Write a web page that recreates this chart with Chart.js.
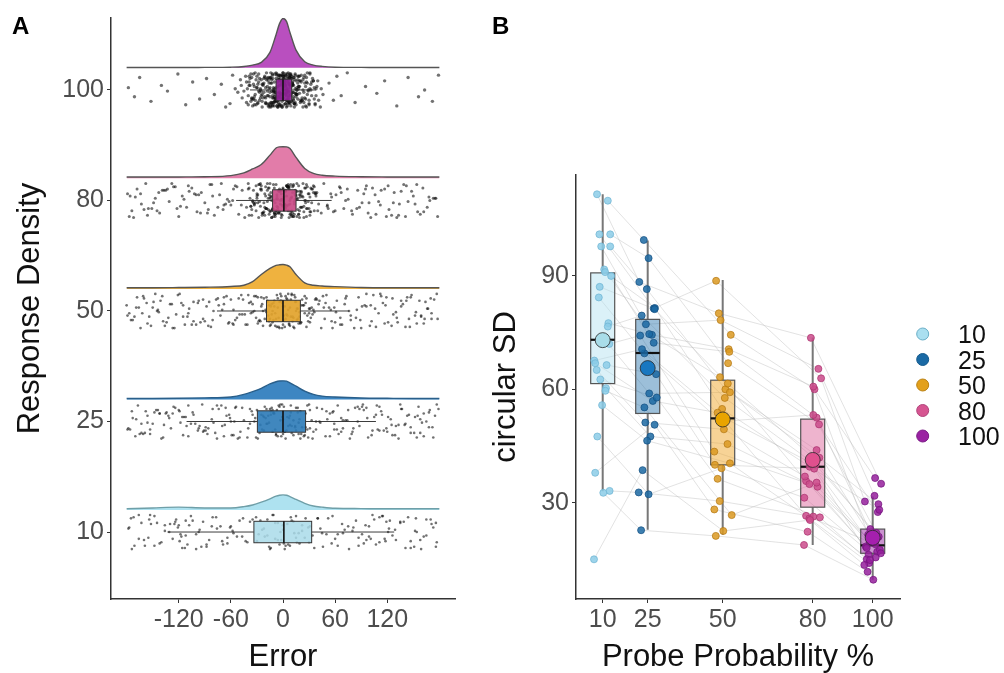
<!DOCTYPE html>
<html><head><meta charset="utf-8">
<script src="https://cdn.jsdelivr.net/npm/chart.js@4.4.1/dist/chart.umd.min.js"></script>
<style>
html,body{margin:0;padding:0;background:#fff;width:1004px;height:673px;overflow:hidden}
#wa{position:absolute;left:0;top:0;width:480px;height:673px}
#wb{position:absolute;left:480px;top:0;width:524px;height:673px}
</style></head><body>
<div id="wa"><canvas id="ca" width="480" height="673"></canvas></div>
<div id="wb"><canvas id="cb" width="524" height="673"></canvas></div>
<script>
// ---------------- DATA ----------------
const conditions = ['10', '25', '50', '80', '100'];
const probeLevels = [10, 25, 50, 80, 100];
const catPos = [1, 2, 3, 4, 5];
const errorTicks = [-120, -60, 0, 60, 120];
const sdTicks = [30, 60, 90];

// Panel A: density curves (height in category units above the baseline)
const densityGrid = [-180,-150,-120,-90,-60,-45,-35,-25,-15,-8,-4,0,4,8,15,25,35,45,60,90,120,150,180];
const dens10  = [0.01,0.018,0.025,0.018,0.018,0.03,0.045,0.07,0.1,0.125,0.133,0.136,0.133,0.12,0.095,0.06,0.035,0.025,0.015,0.012,0.01,0.01,0.01];
const dens25  = [0.008,0.008,0.01,0.014,0.022,0.045,0.07,0.1,0.14,0.16,0.166,0.168,0.165,0.15,0.12,0.075,0.045,0.03,0.022,0.013,0.01,0.008,0.008];
const dens50  = [0.01,0.01,0.012,0.015,0.022,0.033,0.065,0.13,0.185,0.212,0.218,0.22,0.215,0.2,0.13,0.055,0.033,0.026,0.02,0.012,0.01,0.01,0.01];
const dens80  = [0.012,0.012,0.013,0.015,0.025,0.05,0.085,0.125,0.21,0.275,0.285,0.286,0.285,0.27,0.19,0.09,0.045,0.028,0.02,0.015,0.013,0.012,0.012];
const dens100 = [0.003,0.003,0.003,0.004,0.006,0.012,0.025,0.05,0.14,0.30,0.40,0.447,0.42,0.32,0.16,0.055,0.025,0.013,0.006,0.004,0.003,0.003,0.003];

// Panel A: box statistics (Error)
const boxA_lo  = [-133, -111, -76, -54, -38];
const boxA_q1  = [-33.5, -29.5, -19, -12, -8];
const boxA_med = [1, 0, 0, 1, 0];
const boxA_q3  = [33, 26, 20, 15, 10];
const boxA_hi  = [128, 107, 76, 56, 38];

// Panel A: raw responses (Error) and vertical jitter (hundredths of a category)
const yJitter = [3,-12,8,-5,14,-9,0,11,-14,6,-2,9,-7,13,-11,4,-4,12,-15,7,1,-8,10,-13,5,-1,15,-6,2,-10,8,-3,13,-12,6,-9,11,-4,0,-14,9,-7,3,14,-11,5,-2,10,-15,7,-6,12,-1,4,-13,8,-8,15,-5,2,-10,11,-3,6,-12,13,-9,1,-7,9,-14,4,-4,14,0,-11,7,-6,10,-2,12,-13,5,-8,3,-15,11,-5,8,-1,13,-10,6,-3,15,-12,2,-9,9,-7,4,-14,10,-4,12,-11,1,-6,14,-2,7,-13,5,-10,11,-8,3,-15,8,0,-12,13,-5,6,-9,10,-3,15,-7,2,-11,9,-1,12,-14,4,-6,11,-10,7,-2,14,-13,5,-8,1,-4,13,-12,9,-15,3,-7,10,-5,6,-11,15,0,-9,8,-3,12,-14,2,-6,11,-10,4,-1,14,-13,7,-8,10,-4,5,-15,13,-2,9,-12,1,-7,12,-9,6,-5,15,-11,3,-3,8,-14,11,-6,0,-10,13,-1,7,-13,4,-8,14,-4,2,-12,10,-7,9,-15,5,-2,12,-11,1,-9];
const err10 = [-178,-171,-163,-155,-148,-140,-131,-123,-116,-108,-100,-92,-85,-77,-69,-61,-53,-46,-174,-152,-136,-119,-104,-88,-72,-57,-166,-127,-96,-64,-145,-112,-81,-159,-120,177,170,162,154,147,139,130,122,115,107,99,91,84,76,68,60,52,45,173,151,135,118,103,87,71,56,165,126,95,63,144,111,80,158,119,-113,-121,-117,114,121,-110,-125,101,-50,50,-175,176,-60,-43,43,
 2,-18,25,-6,13,-31,19,0,34,-11,8,-24,16,-38,-2,29,-14,10,-21,40,-4,22,-9,15,-28,5,-16,31,1,-35,
 -30,-22,-15,-9,-3,3,9,15,22,30,-26,-18,-12,-6,0,6,12,18,26,36,
 -177,-166,-154,-142,-130,-118,-106,-94,-82,-70,-58,-47,-172,-148,-124,-100,-76,-160,-112,-64,-136,-88,-153,-97,-41,176,165,153,141,129,117,105,93,81,69,57,46,171,147,123,99,75,159,111,63,135,87,152,96,40];
const err25 = [-179,-173,-167,-161,-156,-150,-146,-140,-135,-129,-124,-118,-114,-109,-104,-98,-93,-89,-82,-78,-74,-67,-62,-59,-54,-49,-45,-176,-158,-138,-116,-96,-76,-56,-165,-127,-86,-144,-106,-66,-170,-132,-91,-61,-52,179,172,168,160,156,151,145,140,135,129,124,120,113,109,105,98,93,88,83,79,74,69,63,59,54,49,175,158,137,116,97,77,57,165,126,86,147,107,67,169,133,92,62,51,-153,-119,-80,-47,154,121,81,45,-163,-142,-101,-71,162,143,103,72,-111,111,-57,58,
 3,-20,28,-7,14,-35,21,-1,38,-12,9,-26,17,-41,0,31,-15,10,-22,43,-5,24,-10,15,-30,6,-17,34,1,-38,20,-8,12,-24,39,2,-14,26,-3,18,-32,8,-11,29,-19,
 -40,-33,-27,-21,-16,-11,-6,-1,4,9,14,19,25,31,38,-36,-29,-23,-18,-13,-8,-3,2,7,12,17,22,28,35,42,-38,-31,-25,-19,-14,-9,-4,0,5,10,15,20,26,33,-22,-12,-2,8,18,30,
 -178,-169,-159,-148,-137,-126,-115,-103,-92,-81,-70,-60,-50,-174,-153,-131,-109,-87,-65,-163,-120,-76,-142,-97,-55,-156,-112,-68,-134,-89,177,168,158,147,136,125,114,102,91,80,69,59,50,173,152,130,108,86,64,162,119,75,141,96,54,155,111,67,133,88];
const err50 = [-180,-175,-169,-164,-160,-154,-149,-143,-139,-134,-128,-123,-119,-113,-108,-103,-97,-92,-88,-83,-77,-72,-68,-63,-57,-53,-48,-177,-157,-136,-115,-95,-75,-55,-166,-125,-85,-145,-105,-65,-171,-130,-90,-60,-50,177,171,167,162,157,153,147,141,136,131,126,121,115,110,104,100,94,89,85,78,73,68,62,57,53,48,174,159,138,117,96,76,56,164,127,87,146,106,66,170,132,91,61,50,-152,-117,-81,-46,152,118,82,46,-162,-141,-100,-70,163,143,102,71,-110,112,-58,59,
 4,-18,27,-6,12,-33,20,-2,36,-11,8,-25,16,-40,1,30,-14,9,-21,42,-4,23,-9,14,-29,6,-16,33,0,-37,19,-7,11,-23,38,2,-13,25,-3,17,-31,7,-10,28,-19,13,-1,35,-27,5,-15,21,-35,10,-5,31,-12,15,-44,3,
 -43,-35,-28,-22,-17,-12,-7,-2,3,8,13,18,24,30,37,44,-39,-31,-25,-19,-14,-9,-4,1,6,11,16,21,27,34,41,-41,-33,-26,-20,-15,-10,-5,0,5,10,15,20,26,32,39,-37,-29,-23,-16,-11,-6,-1,4,9,14,19,25,31,-24,-13,-3,7,17,29,-18,-8,2,12,22,
 -179,-168,-156,-144,-132,-121,-109,-98,-86,-74,-62,-51,-173,-150,-127,-103,-80,-57,-161,-115,-68,-138,-92,-47,-147,178,166,154,142,130,119,107,96,84,72,60,49,171,148,125,101,78,55,159,113,66,136,90,47,145];
const err80 = [-179,-174,-168,-163,-158,-151,-147,-142,-137,-131,-126,-120,-116,-111,-105,-99,-94,-90,-84,-79,-73,-69,-64,-60,-55,-51,-47,-44,-170,-155,-133,-118,-102,-87,-71,-58,-145,-108,-66,-124,178,173,166,161,155,150,144,139,133,128,122,117,112,106,101,96,91,86,80,75,70,65,60,55,51,47,44,168,152,136,119,103,88,72,58,142,110,67,125,-176,-160,-82,-48,176,158,95,52,-139,131,-97,99,
 5,-23,14,-8,31,-2,19,-37,9,-15,26,0,-11,38,-29,3,-19,12,-5,22,-33,7,-13,35,-1,17,-26,10,-7,29,-40,2,-17,24,-4,13,-31,8,-21,40,-10,1,-35,16,-3,27,-14,6,-24,20,-9,33,-28,11,-6,36,-18,4,-39,15,-12,23,0,-30,9,-16,41,-2,18,-25,6,-8,30,-34,12,-20,3,-11,25,-5,14,-42,7,-22,28,-1,19,-36,10,-13,32,-7,21,-27,4,-15,37,-3,16,-9,
 -38,-31,-25,-19,-14,-9,-4,1,6,11,16,21,27,33,39,-36,-29,-22,-17,-12,-7,-2,3,8,13,18,24,30,36,-40,-33,-26,-20,-15,-10,-5,0,5,10,15,20,25,31,37,-34,-27,-21,-16,-11,-6,-1,4,9,14,19,23,28,34,-37,-30,-23,-18,-13,-8,-3,2,7,12,17,22,26,32,38,-35,-28,-24,-14,-6,0,6,14,24,35,-32,-18,-9,-2,3,11,19,29,-26,-15,-7,1,8,16,27,-39,-21,-11,-4,5,13,21,31,-30,-17,-8,2,9,18,-25,-12,-1,7,15,26,-20,-10,0,10,20,-16,-5,4,12,-13,-3,6,
 -177,-164,-149,-135,-122,-109,-95,-81,-68,-53,-172,-143,-114,-86,-57,-156,-100,-62,-128,-75,175,162,148,134,121,107,93,79,66,51,169,141,113,85,56,154,98,61,127,74];
const err100 = [-178,-171,-165,-152,-140,-133,-121,-112,-104,-96,-88,-79,-71,-66,-58,-52,-49,-61,-55,-47,62,58,53,67,74,83,95,108,117,131,144,156,163,172,179,
 -45,-42,-40,-38,-36,-34,-32,-30,-29,-27,-26,-25,-24,-23,-22,-21,-20,44,41,39,37,35,33,31,30,29,27,26,25,24,23,22,21,20,-48,46,-43,43,-39,38,-35,34,-31,32,-28,28,-33,36,-37,40,
 2,-7,13,-1,5,-15,9,0,-4,17,-11,3,-9,7,-2,11,-18,4,-6,15,1,-13,8,-3,19,-8,6,-12,0,10,-5,14,-16,3,-1,12,-10,6,-19,9,-4,16,-7,2,-14,11,-2,5,-11,18,-6,8,-9,1,13,-17,4,-3,7,-12,10,-1,15,-8,3,-15,6,0,-5,12,-10,9,-2,17,-13,5,-7,14,-4,1,-16,11,-9,8,-1,18,-6,2,-11,13,-3,7,-14,4,-8,10,0,-12,16,-5,6,-18,3,-2,9,-10,12,-7,1,-15,5,-4,11,-1,14,-9,8,-13,2,-6,19,-3,10,-17,7,-11,0,4,-8,15,-2,6,-14,9,-5,13,-1,3,-10,8,-12,5,-7,1,-3,2,-1,0,4,-4,6,
 -41,-36,-30,-27,-22,-18,-14,-10,-6,-3,1,5,8,12,16,21,25,29,33,37,-39,-34,-28,-24,-20,-16,-12,-9,-5,-1,2,6,10,14,18,22,26,30,35,-40,
 -37,-32,-26,-21,-17,-13,-8,-4,0,3,7,11,15,19,23,27,31,36,-38,-33,-29,-25,-19,-15,-11,-7,-2,4,9,13,17,20,24,28,32,-35,-31,-23,-18,-12,
 -42,-34,-27,-22,-16,-10,-5,0,5,10,15,20,26,31,38,-30,-24,-14,-6,2,8,14,22,-26,-20,-13,-7,-1,3,9,16,24,-28,-21,-15,-9,-3,1,7,12,
 18,27,-36,-25,-17,-11,-4,6,11,19,-32,-19,-8,4,13,25,-23,-12,0,16,-39,-29,-16,-6,3,12,21,30,-24,-10,7,17,-33,-14,1,23,-20,-5,9,28];

// Panel B: circular SD per participant (same index = same participant)
const sd10  = [111.6,109.9,101,101,97.8,97.8,91.7,91,90,87.1,84.3,77.5,76.6,73.5,72,67.6,66.9,66.4,65.1,62.6,60.3,59.6,55.8,47.5,37.9,33.1,32.6,15];
const sd25  = [88.4,99.5,81.4,94.7,77.2,86.5,74.4,81.5,72.3,81.2,69.5,74.6,79.5,58.9,74.2,70.6,56.9,64,51.2,57.8,47.5,55.2,46.4,32.2,50.6,32.7,22.7,38.6];
const sd50  = [80.1,74.4,88.7,66.9,78.3,60,70.6,54.8,69.9,61.5,51.5,63.2,57.7,59.2,43.5,52.5,53.8,40,49.4,36.3,45.5,26.7,40.4,39.1,28.2,30.4,21.2,22.5];
const sd80  = [73.6,60,62.9,50.7,65.4,41.9,60.7,39.5,52.5,42,53.2,35.7,40,43.9,34.2,40.5,26.5,39,36.9,26.1,34.9,35.3,25.8,31.3,22.3,26.3,18.8,25.4];
const sd100 = [35,36.5,30.3,27.5,31.8,29.6,21.5,28.1,20.1,23,22,18.4,21,20.5,17,19.5,19,16.2,18,15,17.5,16.6,14,15.5,11.7,14.8,9.6,13.5];
// Panel B: horizontal jitter of each participant's point (x units)
const jit10  = [-1.9,1.7,-1.1,2.5,-0.5,2.5,0.5,0.8,2.8,-1,-1.3,1.9,1.7,0.3,2.2,-2.8,-2.5,1.3,-2,-0.8,1.1,0.9,-0.2,-1.8,-2.5,2.3,0.2,-2.9];
const jit25  = [-2.8,-1.3,2,0.3,-0.6,-0.3,1.4,2.4,2,2.3,-1.1,0.5,-2,0.5,-2.5,-1.9,1.7,2.8,-0.8,3,0.9,-1.1,-0.2,0.3,2.3,-3,-2.2,-1.7];
const jit50  = [-1.3,2.7,-2.2,1.8,-0.7,0.9,2,-0.2,2.2,1.7,-0.6,-0.9,0.7,2.4,-2.8,0.3,-1.7,-2.6,0.4,-1.7,1.6,3,2.4,-0.4,-2.8,-1,-2.3,0.2];
const jit80  = [-0.6,0.6,2.8,2.1,1.9,2.2,0.2,-1,1.3,0,0.2,-2.2,1,1.3,1.6,-0.5,-2.2,0.5,-2.6,2.4,-1.1,1.3,-1.1,-2.8,-1.7,0.2,-2.9,-0.9];
const jit100 = [2.8,0.8,-2.6,1.7,0.6,1.9,-1.5,2.2,0.5,-0.8,1.2,-2.3,2,-0.3,1.5,-1,0.9,-1.4,-2,-2,2.4,2.7,-1.2,1,-1.7,-0.9,0.2,-2.8];
// Panel B: box statistics
const boxB_lo   = [33, 22.8, 21.5, 18.8, 9.6];
const boxB_q1   = [61.5, 53.6, 40, 28.8, 16.6];
const boxB_med  = [73.1, 69.6, 52.3, 39.5, 18.7];
const boxB_q3   = [90.8, 78.5, 62.4, 52.1, 23];
const boxB_hi   = [111.6, 99.4, 88.9, 73.7, 31.6];
const boxB_mean = [73, 65.6, 52, 41.3, 20.7];

// ---------------- STYLE ----------------
const FONT = "'Liberation Sans', Arial, Helvetica, sans-serif";
const densColors = ['#aee2f0', '#3d86c2', '#efb23f', '#e27ca9', '#b94fbf'];
const densEdges  = ['#6f9fa8', '#2a5f8a', '#555', '#555', '#555'];
const boxAColors = ['rgba(169,219,233,0.85)', 'rgba(43,122,183,0.9)', 'rgba(226,163,43,0.92)', 'rgba(201,74,133,0.92)', 'rgba(143,35,150,0.95)'];
const ptRadiusA  = [1.3, 1.3, 1.35, 1.5, 1.7];
const ptColors   = ['rgba(140,205,232,0.85)', 'rgba(28,106,163,0.85)', 'rgba(220,154,34,0.85)', 'rgba(204,76,140,0.85)', 'rgba(149,32,156,0.85)'];
const ptBorders  = ['rgba(110,180,210,0.9)', 'rgba(20,80,130,0.9)', 'rgba(180,120,20,0.9)', 'rgba(170,50,110,0.9)', 'rgba(115,20,125,0.9)'];
const boxBFill   = ['rgba(175,224,240,0.45)', 'rgba(36,112,170,0.45)', 'rgba(240,168,45,0.5)', 'rgba(222,105,158,0.5)', 'rgba(152,40,162,0.5)'];
const meanColors = ['#a9dde9', '#1877c0', '#e9a400', '#e0508e', '#a51fae'];
const legendFill = ['#aadff0', '#1a6aa5', '#e3a01b', '#d65591', '#9a22a2'];
const legendEdge = ['#6aaec6', '#145a8c', '#b98012', '#b0437a', '#7a1a85'];

Chart.defaults.font.family = FONT;
Chart.defaults.animation = false;

const densLift = 0.2, jitterScale = 0.0103, boxHalfA = 0.097, boxHalfB = 4;

function axisCommon(){
  return {
    border: {display: true, color: '#333', width: 1.5},
    grid: {display: true, drawOnChartArea: false, drawTicks: true, tickLength: 4, color: '#333', lineWidth: 1}
  };
}

// ---------------- PANEL A ----------------
const densArr = [dens10, dens25, dens50, dens80, dens100];
const errArr = [err10, err25, err50, err80, err100];
const dsA = [];
for (let i = 0; i < 5; i++) {
  dsA.push({
    type: 'line', label: 'density ' + conditions[i],
    data: densityGrid.map((g, k) => ({x: g, y: catPos[i] + densLift + densArr[i][k]})),
    fill: {value: catPos[i] + densLift},
    backgroundColor: densColors[i], borderColor: densEdges[i], borderWidth: 1.4,
    pointRadius: 0, cubicInterpolationMode: 'monotone', order: 5
  });
}
for (let i = 0; i < 5; i++) {
  dsA.push({
    type: 'scatter', label: 'responses ' + conditions[i],
    data: errArr[i].map((e, k) => ({x: e, y: catPos[i] + yJitter[(k + i * 41) % yJitter.length] * jitterScale})),
    pointRadius: ptRadiusA[i], pointBackgroundColor: 'rgba(12,12,12,0.58)', pointBorderWidth: 0, order: 3
  });
}

const boxPluginA = {
  id: 'boxA',
  afterDatasetsDraw(chart) {
    const {ctx, scales: {x, y}} = chart;
    ctx.save();
    for (let i = 0; i < 5; i++) {
      const yc = y.getPixelForValue(catPos[i]);
      const yt = y.getPixelForValue(catPos[i] + boxHalfA);
      const yb = y.getPixelForValue(catPos[i] - boxHalfA);
      const xlo = x.getPixelForValue(boxA_lo[i]), xq1 = x.getPixelForValue(boxA_q1[i]);
      const xq3 = x.getPixelForValue(boxA_q3[i]), xhi = x.getPixelForValue(boxA_hi[i]);
      const xm = x.getPixelForValue(boxA_med[i]);
      ctx.strokeStyle = 'rgba(40,40,40,0.9)'; ctx.lineWidth = 1;
      ctx.beginPath(); ctx.moveTo(xlo, yc); ctx.lineTo(xq1, yc); ctx.moveTo(xq3, yc); ctx.lineTo(xhi, yc); ctx.stroke();
      ctx.fillStyle = boxAColors[i];
      ctx.fillRect(xq1, yt, xq3 - xq1, yb - yt);
      ctx.strokeStyle = '#333'; ctx.lineWidth = 1;
      ctx.strokeRect(xq1, yt, xq3 - xq1, yb - yt);
      ctx.strokeStyle = '#111'; ctx.lineWidth = 1.6;
      ctx.beginPath(); ctx.moveTo(xm, yt); ctx.lineTo(xm, yb); ctx.stroke();
    }
    ctx.restore();
  }
};
const panelLabel = (txt) => ({
  id: 'panelLabel' + txt,
  afterDraw(chart) {
    const ctx = chart.ctx; ctx.save();
    ctx.font = 'bold 24px ' + FONT; ctx.fillStyle = '#000'; ctx.textBaseline = 'alphabetic';
    ctx.fillText(txt, 12, 34); ctx.restore();
  }
});

new Chart(document.getElementById('ca'), {
  type: 'scatter',
  data: {datasets: dsA},
  options: {
    responsive: false, animation: false,
    layout: {padding: {left: 0, right: 25, top: 18, bottom: 0}},
    plugins: {legend: {display: false}, tooltip: {enabled: false}},
    scales: {
      x: Object.assign(axisCommon(), {
        type: 'linear', min: -198, max: 198,
        afterBuildTicks: s => { s.ticks = errorTicks.map(v => ({value: v})); },
        afterFit: s => { s.height = 74; },
        ticks: {font: {size: 25}, color: '#4d4d4d', padding: 2, maxRotation: 0, autoSkip: false},
        title: {display: true, text: 'Error', font: {size: 31, lineHeight: 1}, color: '#111', padding: {top: 0, bottom: 0}}
      }),
      y: Object.assign(axisCommon(), {
        type: 'linear', min: 0.394, max: 5.651,
        afterBuildTicks: s => { s.ticks = catPos.map(v => ({value: v})); },
        afterFit: s => { s.width = 111; },
        ticks: {font: {size: 25}, color: '#4d4d4d', padding: 3, autoSkip: false, callback: v => conditions[catPos.indexOf(v)]},
        title: {display: true, text: 'Response Density', font: {size: 31, lineHeight: 1}, color: '#111', padding: {top: 15, bottom: 0}}
      })
    }
  },
  plugins: [boxPluginA, panelLabel('A')]
});

// ---------------- PANEL B ----------------
const sdArr = [sd10, sd25, sd50, sd80, sd100];
const jitArr = [jit10, jit25, jit50, jit80, jit100];
const lineData = [];
for (let s = 0; s < sd10.length; s++) {
  for (let c = 0; c < 5; c++) lineData.push({x: probeLevels[c] + jitArr[c][s], y: sdArr[c][s]});
  lineData.push({x: probeLevels[4], y: null});
}
const dsB = [{
  type: 'line', label: 'participants', id: 'subjectLines', data: lineData,
  borderColor: 'rgba(185,185,185,0.42)', borderWidth: 1, pointRadius: 0, spanGaps: false, fill: false, order: 10
}];
for (let c = 0; c < 5; c++) {
  dsB.push({
    type: 'scatter', label: conditions[c],
    data: sdArr[c].map((v, s) => ({x: probeLevels[c] + jitArr[c][s], y: v})),
    pointRadius: 3.5, pointBackgroundColor: ptColors[c], pointBorderColor: ptBorders[c], pointBorderWidth: 0.8, order: 2
  });
}
dsB.push({
  type: 'scatter', label: 'mean',
  data: probeLevels.map((p, c) => ({x: p, y: boxB_mean[c]})),
  pointRadius: 7.5, pointBackgroundColor: meanColors, pointBorderColor: 'rgba(40,40,40,0.8)', pointBorderWidth: 1, order: 1
});

const boxPluginB = {
  id: 'boxB',
  afterDatasetDraw(chart, args) {
    if (chart.data.datasets[args.index].id !== 'subjectLines') return;
    const {ctx, scales: {x, y}} = chart;
    ctx.save();
    for (let c = 0; c < 5; c++) {
      const xc = x.getPixelForValue(probeLevels[c]);
      const xl = x.getPixelForValue(probeLevels[c] - boxHalfB), xr = x.getPixelForValue(probeLevels[c] + boxHalfB);
      const ylo = y.getPixelForValue(boxB_lo[c]), yq1 = y.getPixelForValue(boxB_q1[c]);
      const yq3 = y.getPixelForValue(boxB_q3[c]), yhi = y.getPixelForValue(boxB_hi[c]);
      const ym = y.getPixelForValue(boxB_med[c]);
      ctx.strokeStyle = '#777'; ctx.lineWidth = 2;
      ctx.beginPath(); ctx.moveTo(xc, ylo); ctx.lineTo(xc, yq1); ctx.moveTo(xc, yq3); ctx.lineTo(xc, yhi); ctx.stroke();
      ctx.fillStyle = boxBFill[c];
      ctx.fillRect(xl, yq3, xr - xl, yq1 - yq3);
      ctx.strokeStyle = '#555'; ctx.lineWidth = 1.2;
      ctx.strokeRect(xl, yq3, xr - xl, yq1 - yq3);
      ctx.strokeStyle = '#111'; ctx.lineWidth = 2.2;
      ctx.beginPath(); ctx.moveTo(xl, ym); ctx.lineTo(xr, ym); ctx.stroke();
    }
    ctx.restore();
  }
};
const legendPluginB = {
  id: 'legendB',
  afterDraw(chart) {
    const ctx = chart.ctx; ctx.save();
    ctx.font = '25px ' + FONT; ctx.textBaseline = 'middle'; ctx.textAlign = 'left';
    for (let c = 0; c < 5; c++) {
      const cy = 334 + c * 25.5;
      ctx.beginPath(); ctx.arc(442.7, cy, 6, 0, Math.PI * 2);
      ctx.fillStyle = legendFill[c]; ctx.fill();
      ctx.strokeStyle = legendEdge[c]; ctx.lineWidth = 1; ctx.stroke();
      ctx.fillStyle = '#111'; ctx.fillText(conditions[c], 478, cy + 2.5);
    }
    ctx.restore();
  }
};

new Chart(document.getElementById('cb'), {
  type: 'scatter',
  data: {datasets: dsB},
  options: {
    responsive: false, animation: false,
    layout: {padding: {left: 0, right: 104, top: 175, bottom: 0}},
    plugins: {legend: {display: false}, tooltip: {enabled: false}},
    scales: {
      x: Object.assign(axisCommon(), {
        type: 'linear', min: 1.1, max: 109.1,
        afterBuildTicks: s => { s.ticks = probeLevels.map(v => ({value: v})); },
        afterFit: s => { s.height = 74; },
        ticks: {font: {size: 25}, color: '#4d4d4d', padding: 2, maxRotation: 0, autoSkip: false},
        title: {display: true, text: 'Probe Probability %', font: {size: 31, lineHeight: 1}, color: '#111', padding: {top: 0, bottom: 0}}
      }),
      y: Object.assign(axisCommon(), {
        type: 'linear', min: 4.5, max: 116.7,
        afterBuildTicks: s => { s.ticks = sdTicks.map(v => ({value: v})); },
        afterFit: s => { s.width = 96; },
        ticks: {font: {size: 25}, color: '#4d4d4d', padding: 3, autoSkip: false},
        title: {display: true, text: 'circular SD', font: {size: 31, lineHeight: 1}, color: '#111', padding: {top: 10.5, bottom: 0}}
      })
    }
  },
  plugins: [boxPluginB, legendPluginB, panelLabel('B')]
});
</script></body></html>
